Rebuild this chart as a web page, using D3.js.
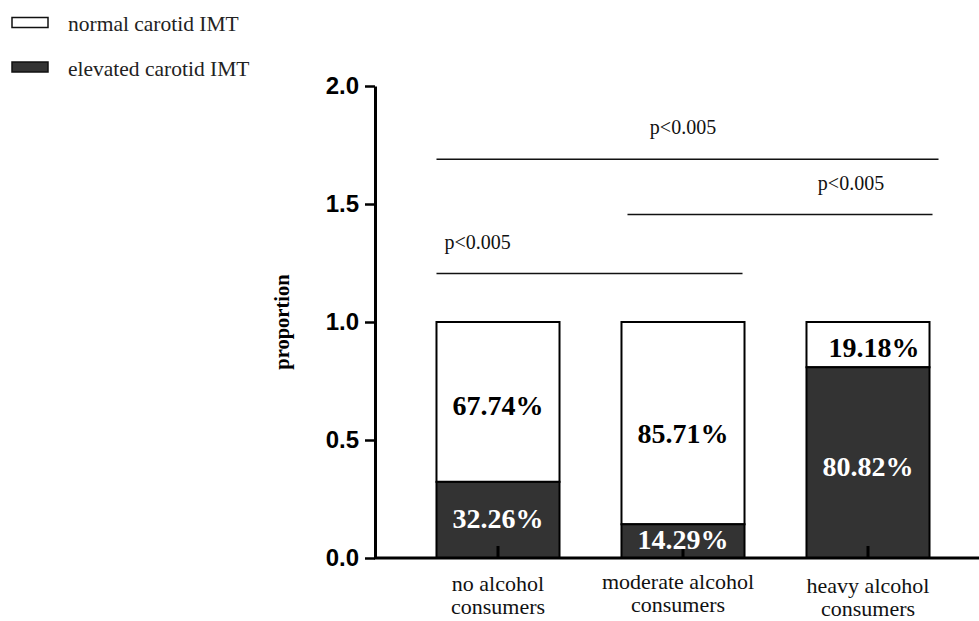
<!DOCTYPE html>
<html>
<head>
<meta charset="utf-8">
<script src="https://cdn.jsdelivr.net/npm/d3@7"></script>
<style>
body { margin: 0; background: #fff; }
svg { display: block; }
</style>
</head>
<body>
<div id="chart-area"></div>
<script>
// data
var categories = ["no alcohol consumers", "moderate alcohol consumers", "heavy alcohol consumers"]
var categoryLines = [["no alcohol", "consumers"], ["moderate alcohol", "consumers"], ["heavy alcohol", "consumers"]]
var elevated = [0.3226, 0.1429, 0.8082]
var normal = [0.6774, 0.8571, 0.1918]
var elevatedLabels = ["32.26%", "14.29%", "80.82%"]
var normalLabels = ["67.74%", "85.71%", "19.18%"]
var yTicks = [0, 0.5, 1.0, 1.5, 2.0]
var compFrom = [0, 1, 0]
var compTo = [2, 2, 1]
var compLevel = [1.69, 1.455, 1.205]
var compText = ["p<0.005", "p<0.005", "p<0.005"]
var legendNames = ["normal carotid IMT", "elevated carotid IMT"]

var width = 979
var height = 621
var darkFill = "#333333"
var serif = "Liberation Serif, Times New Roman, serif"

// small per-label nudges so the value labels sit like in the figure
var normalNudge = [4, 11, 3.5]
var elevatedNudge = [-1, -1, 4.5]
var xLabelBase = [591, 589, 593]

var svg = d3.select("#chart-area").append("svg")
.attr("width", width)
.attr("height", height)

var y = d3.scaleLinear()
.domain([0, 2])
.range([558, 86])

var x = d3.scaleBand()
.domain(categories)
.range([405.5, 960.5])
.paddingInner(0.335)
.paddingOuter(0.1675)

var bw = x.bandwidth()

// Legend
var legend = svg.append("g")
legendNames.forEach((name, i) => {
	var row = legend.append("g")
	.attr("transform", "translate(0, " + (i * 44.5) + ")")

	row.append("rect")
	.attr("x", 12)
	.attr("y", 17.5)
	.attr("width", 36)
	.attr("height", 10)
	.attr("fill", i == 0 ? "#fff" : darkFill)
	.attr("stroke", "#111")
	.attr("stroke-width", 1.5)

	row.append("text")
	.attr("x", 68)
	.attr("y", 31)
	.attr("font-family", serif)
	.attr("font-size", "21.5px")
	.style("fill", "#222")
	.text(name)
})

// Y axis
var yAxisCall = d3.axisLeft(y)
.tickValues(yTicks)
.tickFormat(d3.format(".1f"))
.tickSize(10)
.tickSizeOuter(0)

var yAxisGroup = svg.append("g")
.attr("transform", "translate(375, 0)")
.call(yAxisCall)

yAxisGroup.select(".domain").attr("stroke", "#000").attr("stroke-width", 3)
yAxisGroup.selectAll(".tick line").attr("stroke", "#000").attr("stroke-width", 2.5)
yAxisGroup.selectAll(".tick text")
.attr("x", -16)
.attr("font-family", "Liberation Sans, Arial, sans-serif")
.attr("font-weight", "bold")
.attr("font-size", "24px")
.style("fill", "#000")

// Y label
svg.append("text")
.attr("transform", "rotate(-90)")
.attr("x", -y(1))
.attr("y", 289)
.attr("text-anchor", "middle")
.attr("font-family", serif)
.attr("font-weight", "bold")
.attr("font-size", "20.5px")
.style("fill", "#000")
.text("proportion")

// Bars
var bars = svg.append("g")
categories.forEach((c, i) => {
	bars.append("rect")
	.attr("x", x(c))
	.attr("y", y(elevated[i] + normal[i]))
	.attr("width", bw)
	.attr("height", y(elevated[i]) - y(elevated[i] + normal[i]))
	.attr("fill", "#fff")
	.attr("stroke", "#000")
	.attr("stroke-width", 2)

	bars.append("rect")
	.attr("x", x(c))
	.attr("y", y(elevated[i]))
	.attr("width", bw)
	.attr("height", y(0) - y(elevated[i]))
	.attr("fill", darkFill)
	.attr("stroke", "#000")
	.attr("stroke-width", 2)
})

// X axis (line + inward ticks)
svg.append("line")
.attr("x1", 374)
.attr("x2", width)
.attr("y1", y(0))
.attr("y2", y(0))
.attr("stroke", "#000")
.attr("stroke-width", 3)

categories.forEach((c, i) => {
	svg.append("line")
	.attr("x1", x(c) + bw / 2)
	.attr("x2", x(c) + bw / 2)
	.attr("y1", y(0))
	.attr("y2", y(0) - 12)
	.attr("stroke", "#000")
	.attr("stroke-width", 3)

	var cx = x(c) + bw / 2 - (i == 1 ? 5 : 0)
	var lab = svg.append("text")
	.attr("x", cx)
	.attr("y", xLabelBase[i])
	.attr("text-anchor", "middle")
	.attr("font-family", serif)
	.attr("font-size", "22px")
	.style("fill", "#111")

	categoryLines[i].forEach((t, j) => {
		lab.append("tspan")
		.attr("x", cx)
		.attr("dy", j == 0 ? 0 : 23)
		.text(t)
	})
})

// Value labels
categories.forEach((c, i) => {
	var top = y(elevated[i] + normal[i])
	var mid = y(elevated[i])
	svg.append("text")
	.attr("x", x(c) + bw / 2 + (i == 2 ? 6 : 0))
	.attr("y", (top + mid) / 2 + normalNudge[i])
	.attr("dy", "0.33em")
	.attr("text-anchor", "middle")
	.attr("font-family", serif)
	.attr("font-weight", "bold")
	.attr("font-size", "28px")
	.style("fill", "#000")
	.text(normalLabels[i])

	svg.append("text")
	.attr("x", x(c) + bw / 2)
	.attr("y", (mid + y(0)) / 2 + elevatedNudge[i])
	.attr("dy", "0.33em")
	.attr("text-anchor", "middle")
	.attr("font-family", serif)
	.attr("font-weight", "bold")
	.attr("font-size", "28px")
	.style("fill", "#fff")
	.text(elevatedLabels[i])
})

// Significance brackets
var compX1 = [x(categories[0]), x(categories[1]) + 6, x(categories[0])]
var compX2 = [x(categories[2]) + bw + 9, x(categories[2]) + bw + 3, x(categories[1]) + bw - 2]
var compTextX = [x(categories[1]) + bw / 2, x(categories[2]) + bw / 2 - 17, x(categories[0]) + 8]

compText.forEach((t, i) => {
	svg.append("line")
	.attr("x1", compX1[i])
	.attr("x2", compX2[i])
	.attr("y1", y(compLevel[i]))
	.attr("y2", y(compLevel[i]))
	.attr("stroke", "#111")
	.attr("stroke-width", 1.5)

	svg.append("text")
	.attr("x", compTextX[i])
	.attr("y", y(compLevel[i]) - 25)
	.attr("text-anchor", i == 2 ? "start" : "middle")
	.attr("font-family", serif)
	.attr("font-size", "20px")
	.style("fill", "#111")
	.text(t)
})
</script>
</body>
</html>
